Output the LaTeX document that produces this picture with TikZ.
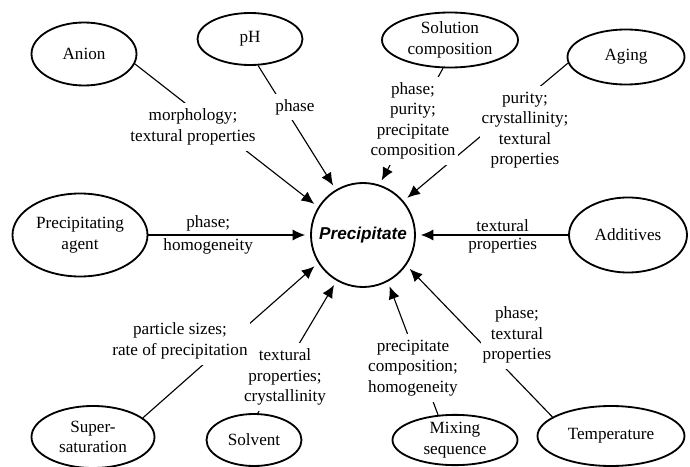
\documentclass[tikz,border=0pt]{standalone}
\usepackage{fontspec}
\setmainfont{Liberation Serif}
\newfontfamily\arialfont{Liberation Sans}
\usetikzlibrary{arrows.meta, shapes.geometric}

\begin{document}
\begin{tikzpicture}[
  >={Latex[length=9pt, width=8pt]},
  factor/.style={draw, ellipse, line width=1.3pt, inner sep=0pt,
                 font=\fontsize{12.2}{14.6}\selectfont, align=center},
  product/.style={draw, circle, line width=1.3pt, minimum size=2.6cm,
                  inner sep=0pt, font=\fontsize{12.2}{14.6}\selectfont},
  effect/.style={fill=white, inner xsep=1.5pt, inner ysep=4pt, align=center,
                 font=\fontsize{12.2}{14.6}\selectfont},
  tag/.style={inner sep=2pt, font=\fontsize{12.2}{14.6}\selectfont},
  link/.style={->, line width=0.8pt, shorten >=3.5pt}
]
\useasboundingbox (0,0) rectangle (17.25,11.65);

% Centre
\node[product] (prec) at (9.075,5.775) {\arialfont\bfseries\itshape Precipitate};

% Top row
\node[factor, minimum width=2.625cm, minimum height=1.575cm] (anion) at (2.1,10.3) {Anion};
\node[factor, minimum width=2.625cm, minimum height=1.3cm] (ph) at (6.25,10.675) {pH};
\node[factor, minimum width=3.4cm, minimum height=1.375cm] (sol) at (11.25,10.65) {Solution\\composition};
\node[factor, minimum width=2.925cm, minimum height=1.375cm] (aging) at (15.65,10.225) {Aging};

% Middle row
\node[factor, minimum width=3.375cm, minimum height=2.075cm] (agent) at (2.0,5.775) {Precipitating\\agent};
\node[factor, minimum width=2.95cm, minimum height=1.875cm] (additives) at (15.7,5.775) {Additives};

% Bottom row
\node[factor, minimum width=3.075cm, minimum height=1.55cm] (super) at (2.325,0.725) {Super-\\saturation};
\node[factor, minimum width=2.375cm, minimum height=1.3cm] (solvent) at (6.35,0.65) {Solvent};
\node[factor, minimum width=3.125cm, minimum height=1.25cm] (mixing) at (11.375,0.65) {Mixing\\sequence};
\node[factor, minimum width=3.675cm, minimum height=1.5cm] (temp) at (15.275,0.75) {Temperature};

% Connectors
\draw[link] (anion.-11) -- (prec.148);
\draw[link] (ph.-73) -- (prec.121);
\draw[link] (sol.-104) -- (prec.72);
\draw[link] (aging.-174) -- (prec.40);
\draw[link] (agent.east) -- (prec.west)
  node[pos=0.37, above, tag] {phase;}
  node[pos=0.37, below, tag] {homogeneity};
\draw[link] (additives.west) -- (prec.east)
  node[pos=0.43, above, tag] {textural}
  node[pos=0.43, below, tag] {properties};
\draw[link] (super.21) -- (prec.212);
\draw[link] (solvent.82) -- (prec.240);
\draw[link] (mixing.124) -- (prec.-62);
\draw[link] (temp.162) -- (prec.-35);

% Effects
\node[effect] (lanion) at (4.825,8.475) {morphology;\\textural properties};
\node[effect] (lph) at (7.375,8.975) {phase};
\node[effect] (lsol) at (10.325,8.625) {phase;\\purity;\\precipitate\\composition};
\node[effect] (laging) at (13.125,8.4) {purity;\\crystallinity;\\textural\\properties};
\node[effect] (lsolvent) at (7.125,2.225) {textural\\properties;\\crystallinity};
\node[effect] (lsuper) at (4.5,3.125) {particle sizes;\\rate of precipitation};
\node[effect] (lmixing) at (10.325,2.45) {precipitate\\composition;\\homogeneity};
\node[effect] (ltemp) at (12.925,3.275) {phase;\\textural\\properties};

\end{tikzpicture}
\end{document}
